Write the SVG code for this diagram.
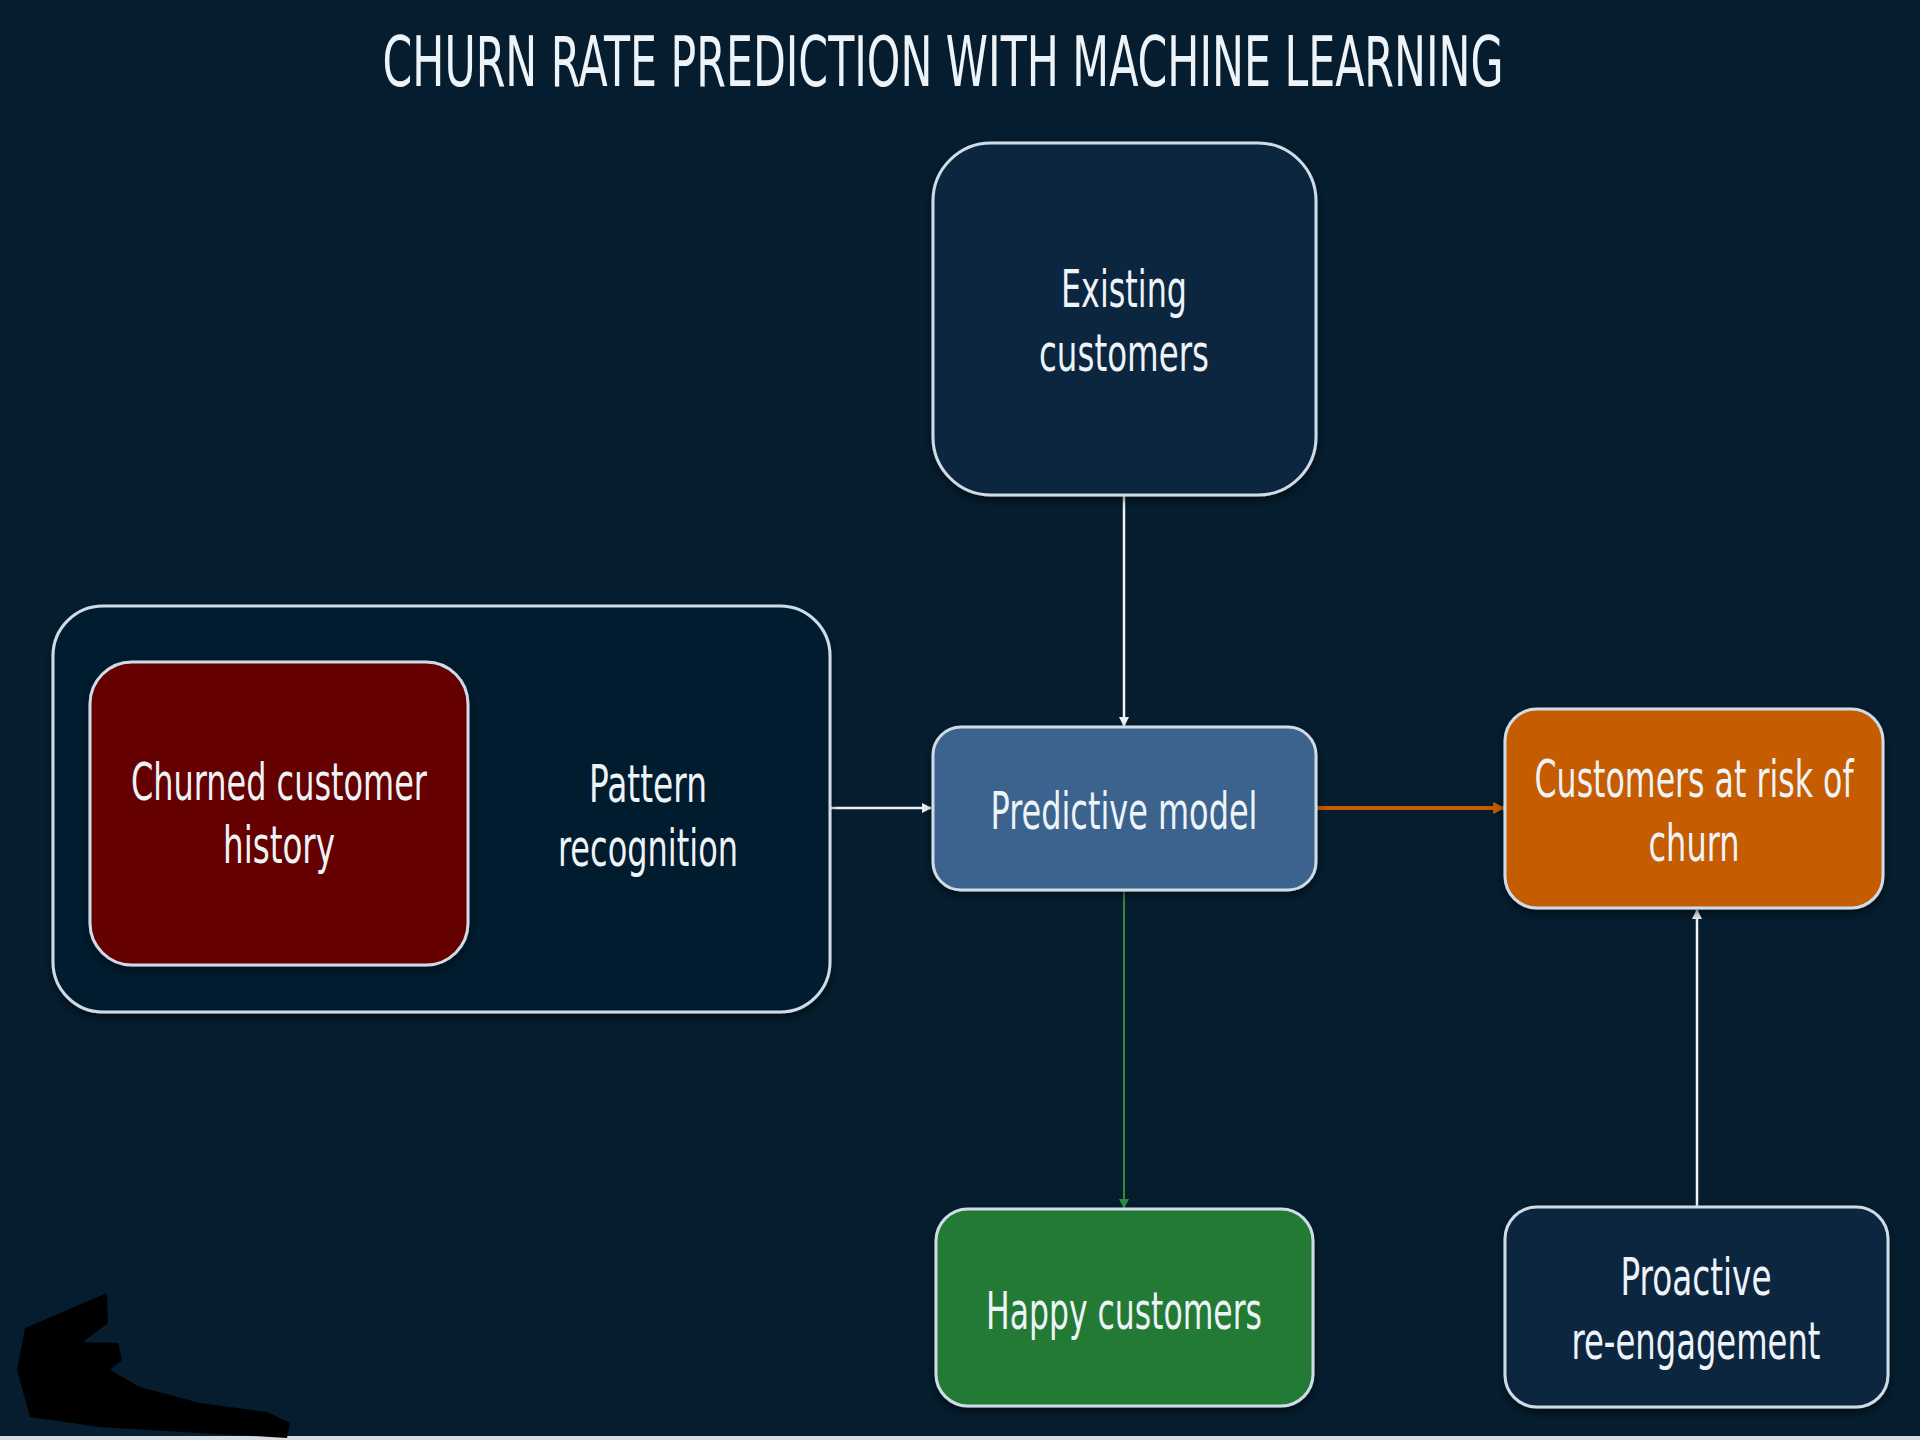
<svg xmlns="http://www.w3.org/2000/svg" width="1920" height="1440" viewBox="0 0 1920 1440">
<style>
.t{font-family:"Liberation Sans Narrow","DejaVu Sans Condensed","Liberation Sans",sans-serif;fill:#eef3f7;font-size:52px;text-anchor:middle;}
.title{font-size:70px;}
.box{stroke:#cfdce8;stroke-width:3;}
.c{fill:none;}
</style>
<defs>
<filter id="sh" x="-10%" y="-10%" width="120%" height="130%">
<feDropShadow dx="0" dy="4" stdDeviation="4" flood-color="#000" flood-opacity="0.5"/>
</filter>
<marker id="aw" viewBox="0 0 10 10" refX="9" refY="5" markerWidth="4" markerHeight="4" orient="auto" markerUnits="strokeWidth"><path d="M0,0 L10,5 L0,10 z" fill="#eef3f7"/></marker>
<marker id="ao" viewBox="0 0 10 10" refX="9" refY="5" markerWidth="3" markerHeight="3" orient="auto" markerUnits="strokeWidth"><path d="M0,0 L10,5 L0,10 z" fill="#c55a00"/></marker>
<marker id="ag" viewBox="0 0 10 10" refX="9" refY="5" markerWidth="5" markerHeight="5" orient="auto" markerUnits="strokeWidth"><path d="M0,0 L10,5 L0,10 z" fill="#2e8b3a"/></marker>
</defs>
<rect x="0" y="0" width="1920" height="1440" fill="#051d2e"/>
<text class="t title" x="943" y="86" textLength="1121" lengthAdjust="spacingAndGlyphs">CHURN RATE PREDICTION WITH MACHINE LEARNING</text>

<g id="connectors">
<line class="c" x1="1124" y1="495" x2="1124" y2="726" stroke="#eef3f7" stroke-width="2.5" marker-end="url(#aw)"/>
<line class="c" x1="830" y1="808" x2="931" y2="808" stroke="#eef3f7" stroke-width="2.5" marker-end="url(#aw)"/>
<line class="c" x1="1316" y1="808" x2="1504" y2="808" stroke="#c55a00" stroke-width="4" marker-end="url(#ao)"/>
<line class="c" x1="1124" y1="891" x2="1124" y2="1208" stroke="#2e8b3a" stroke-width="2" marker-end="url(#ag)"/>
<line class="c" x1="1697" y1="1207" x2="1697" y2="910" stroke="#eef3f7" stroke-width="2.5" marker-end="url(#aw)"/>
</g>

<g id="existing">
<rect class="box" x="933" y="143" width="383" height="352" rx="58" fill="#072740" filter="url(#sh)"/>
<text class="t" x="1124" y="307" textLength="126" lengthAdjust="spacingAndGlyphs">Existing</text>
<text class="t" x="1124" y="371" textLength="170" lengthAdjust="spacingAndGlyphs">customers</text>
</g>

<g id="pattern-group">
<rect class="box" x="53" y="606" width="777" height="406" rx="50" fill="#051d2e" filter="url(#sh)"/>
<text class="t" x="648" y="802" textLength="118" lengthAdjust="spacingAndGlyphs">Pattern</text>
<text class="t" x="648" y="866" textLength="180" lengthAdjust="spacingAndGlyphs">recognition</text>
</g>

<g id="churned">
<rect class="box" x="90" y="662" width="378" height="303" rx="42" fill="#650000" filter="url(#sh)"/>
<text class="t" x="279" y="800" textLength="296" lengthAdjust="spacingAndGlyphs">Churned customer</text>
<text class="t" x="279" y="863" textLength="112" lengthAdjust="spacingAndGlyphs">history</text>
</g>

<g id="predictive">
<rect class="box" x="933" y="727" width="383" height="163" rx="28" fill="#3b648e" filter="url(#sh)"/>
<text class="t" x="1124" y="829" textLength="267" lengthAdjust="spacingAndGlyphs">Predictive model</text>
</g>

<g id="risk">
<rect class="box" x="1505" y="709" width="378" height="199" rx="32" fill="#c65b00" filter="url(#sh)"/>
<text class="t" x="1694" y="797" textLength="319" lengthAdjust="spacingAndGlyphs">Customers at risk of</text>
<text class="t" x="1694" y="861" textLength="91" lengthAdjust="spacingAndGlyphs">churn</text>
</g>

<g id="happy">
<rect class="box" x="936" y="1209" width="377" height="197" rx="32" fill="#217a35" filter="url(#sh)"/>
<text class="t" x="1124" y="1329" textLength="276" lengthAdjust="spacingAndGlyphs">Happy customers</text>
</g>

<g id="proactive">
<rect class="box" x="1505" y="1207" width="383" height="200" rx="32" fill="#072740" filter="url(#sh)"/>
<text class="t" x="1696" y="1295" textLength="151" lengthAdjust="spacingAndGlyphs">Proactive</text>
<text class="t" x="1696" y="1359" textLength="249" lengthAdjust="spacingAndGlyphs">re-engagement</text>
</g>

<rect x="0" y="1436" width="1920" height="4" fill="#d6dee4"/>
<path d="M25,1328 L107,1293 L108,1323 L83,1342 L118,1343 L122,1360 L110,1370 L140,1387 L200,1403 L267,1412 L290,1423 L287,1438 L200,1433 L100,1427 L30,1417 L17,1370 Z" fill="#000"/>
</svg>
